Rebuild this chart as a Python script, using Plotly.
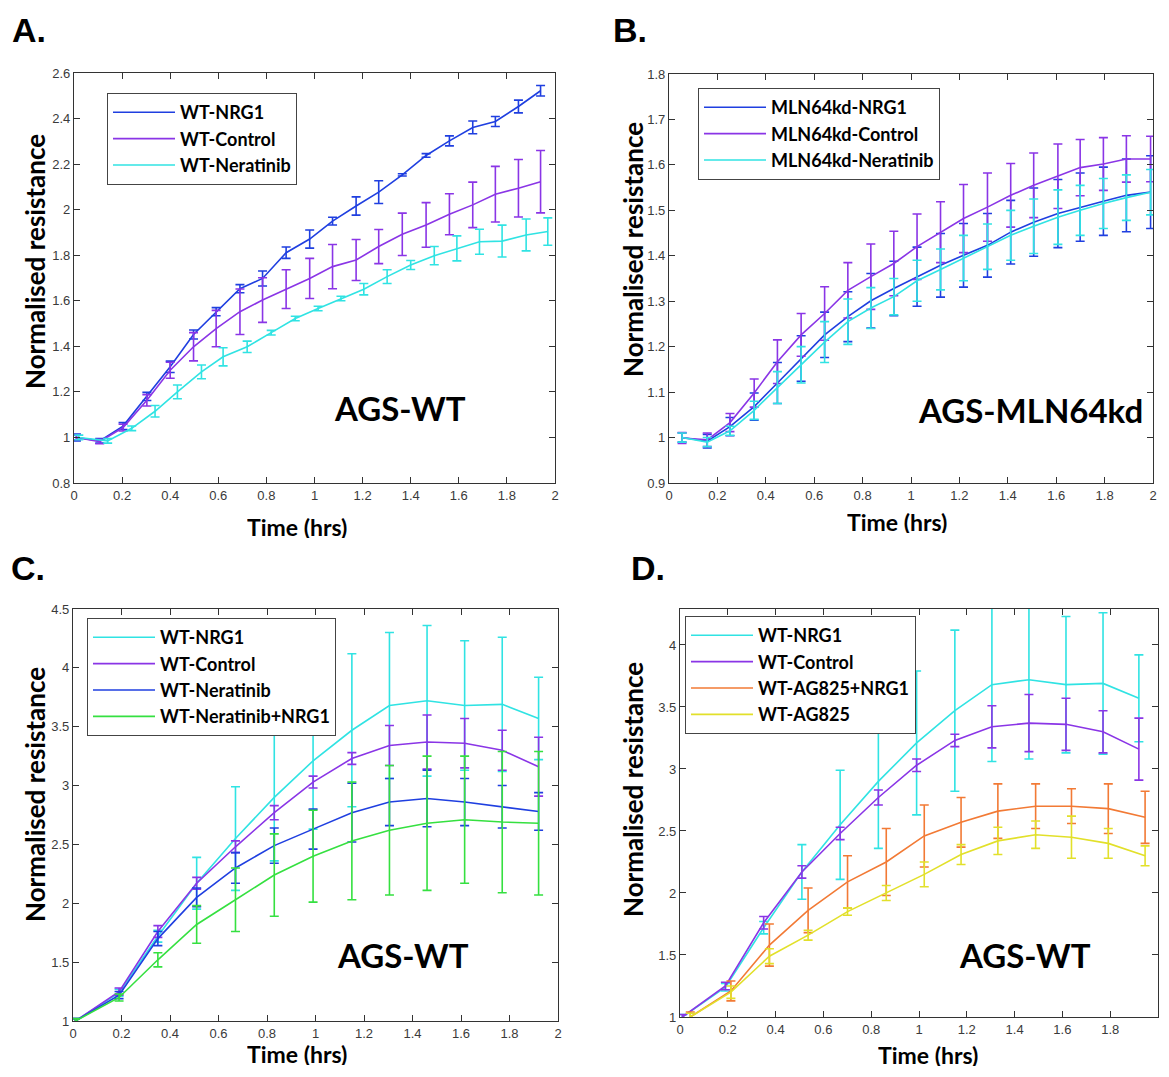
import plotly.graph_objects as go

# ---------- Panel A: AGS-WT ----------
a_x_nrg1 = [0.01, 0.107, 0.204, 0.303, 0.40, 0.497, 0.591, 0.69, 0.784, 0.882, 0.98,
            1.075, 1.173, 1.267, 1.365, 1.464, 1.561, 1.658, 1.752, 1.848, 1.94]
a_nrg1 = [1.0, 0.985, 1.05, 1.18, 1.31, 1.452, 1.552, 1.653, 1.698, 1.811, 1.871,
          1.95, 2.016, 2.077, 2.153, 2.238, 2.302, 2.361, 2.387, 2.453, 2.522]
a_nrg1_err = [0.015, 0.01, 0.015, 0.018, 0.025, 0.02, 0.018, 0.018, 0.033, 0.025, 0.04,
              0.017, 0.04, 0.05, 0.005, 0.008, 0.022, 0.028, 0.022, 0.028, 0.023]
a_ctrl = [1.0, 0.982, 1.043, 1.163, 1.295, 1.398, 1.478, 1.552, 1.603, 1.651, 1.698,
          1.75, 1.779, 1.838, 1.892, 1.933, 1.98, 2.021, 2.068, 2.094, 2.123]
a_ctrl_err = [0.01, 0.01, 0.015, 0.025, 0.035, 0.062, 0.08, 0.1, 0.098, 0.085, 0.088,
              0.097, 0.09, 0.075, 0.093, 0.098, 0.09, 0.1, 0.122, 0.126, 0.137]
a_x_ner = [0.02, 0.14, 0.24, 0.337, 0.43, 0.53, 0.62, 0.72, 0.82, 0.92, 1.015,
           1.11, 1.205, 1.302, 1.40, 1.498, 1.592, 1.686, 1.78, 1.88, 1.97]
a_ner = [1.0, 0.985, 1.04, 1.115, 1.2, 1.288, 1.354, 1.398, 1.46, 1.522, 1.566,
         1.61, 1.651, 1.706, 1.757, 1.798, 1.83, 1.859, 1.862, 1.889, 1.904]
a_ner_err = [0.01, 0.01, 0.01, 0.025, 0.03, 0.03, 0.04, 0.025, 0.01, 0.01, 0.01,
             0.01, 0.025, 0.03, 0.02, 0.04, 0.055, 0.055, 0.07, 0.07, 0.06]

# ---------- Panel B: AGS-MLN64kd ----------
b_x = [0.054, 0.158, 0.252, 0.352, 0.448, 0.546, 0.643, 0.739, 0.834, 0.929, 1.025,
       1.122, 1.217, 1.316, 1.412, 1.507, 1.607, 1.699, 1.795, 1.89, 1.99]
b_nrg1 = [1.0, 0.992, 1.024, 1.068, 1.12, 1.174, 1.226, 1.266, 1.301, 1.328, 1.354,
          1.379, 1.401, 1.423, 1.452, 1.474, 1.493, 1.507, 1.52, 1.533, 1.54]
b_nrg1_err = [0.01, 0.015, 0.02, 0.03, 0.045, 0.05, 0.05, 0.055, 0.06, 0.06, 0.065,
              0.07, 0.07, 0.07, 0.07, 0.075, 0.075, 0.075, 0.075, 0.08, 0.08]
b_ctrl = [0.999, 0.995, 1.033, 1.098, 1.167, 1.226, 1.273, 1.324, 1.354, 1.383, 1.42,
          1.452, 1.482, 1.507, 1.533, 1.555, 1.575, 1.594, 1.602, 1.613, 1.613]
b_ctrl_err = [0.012, 0.015, 0.02, 0.031, 0.048, 0.047, 0.059, 0.061, 0.072, 0.071, 0.072,
              0.067, 0.075, 0.075, 0.07, 0.071, 0.071, 0.062, 0.058, 0.051, 0.05]
b_ner = [1.0, 0.99, 1.015, 1.06, 1.11, 1.16, 1.21, 1.255, 1.285, 1.31, 1.345,
         1.37, 1.395, 1.42, 1.445, 1.465, 1.485, 1.5, 1.515, 1.528, 1.54]
b_ner_err = [0.01, 0.01, 0.01, 0.02, 0.035, 0.04, 0.045, 0.05, 0.045, 0.04, 0.045,
             0.045, 0.05, 0.05, 0.055, 0.06, 0.06, 0.055, 0.055, 0.05, 0.05]

# ---------- Panels C / D: AGS-WT (shared NRG1 and Control) ----------
cd_x = [0.01, 0.19, 0.35, 0.51, 0.67, 0.83, 0.99, 1.15, 1.305, 1.46, 1.615, 1.77, 1.92]
wt_nrg1 = [1.0, 1.24, 1.72, 2.17, 2.55, 2.9, 3.21, 3.47, 3.68, 3.72, 3.68, 3.69, 3.57]
wt_nrg1_err = [0.02, 0.03, 0.05, 0.22, 0.44, 0.54, 0.58, 0.65, 0.62, 0.64, 0.55, 0.57, 0.35]
wt_ctrl = [1.0, 1.25, 1.76, 2.17, 2.48, 2.77, 3.03, 3.23, 3.34, 3.37, 3.36, 3.3, 3.16]
wt_ctrl_err = [0.02, 0.03, 0.05, 0.05, 0.05, 0.06, 0.05, 0.05, 0.17, 0.23, 0.21, 0.17, 0.25]
c_ner = [1.0, 1.22, 1.7, 2.05, 2.3, 2.49, 2.63, 2.77, 2.86, 2.89, 2.86, 2.82, 2.78]
c_ner_err = [0.02, 0.03, 0.06, 0.08, 0.13, 0.15, 0.17, 0.25, 0.2, 0.24, 0.2, 0.18, 0.16]
c_ner_nrg1 = [1.0, 1.2, 1.52, 1.82, 2.03, 2.24, 2.4, 2.53, 2.62, 2.68, 2.71, 2.69, 2.68]
c_ner_nrg1_err = [0.02, 0.03, 0.06, 0.16, 0.27, 0.35, 0.39, 0.5, 0.55, 0.57, 0.54, 0.6, 0.61]

d_x_ag = [0.043, 0.213, 0.374, 0.536, 0.701, 0.863, 1.022, 1.176, 1.33, 1.488, 1.638, 1.792, 1.946]
d_ag_nrg1 = [1.0, 1.21, 1.58, 1.86, 2.09, 2.25, 2.46, 2.57, 2.66, 2.7, 2.7, 2.68, 2.61]
d_ag_nrg1_err = [0.04, 0.08, 0.17, 0.18, 0.21, 0.27, 0.25, 0.2, 0.22, 0.18, 0.14, 0.2, 0.21]
d_ag = [1.0, 1.2, 1.49, 1.66, 1.85, 2.0, 2.15, 2.31, 2.42, 2.47, 2.45, 2.4, 2.3]
d_ag_err = [0.03, 0.05, 0.06, 0.04, 0.03, 0.06, 0.1, 0.08, 0.11, 0.11, 0.17, 0.12, 0.08]

BLUE = "#1f3fe0"
PURPLE = "#8a35e6"
CYAN = "#30e3e3"
GREEN = "#35e040"
ORANGE = "#f27a35"
YELLOW = "#e2e02a"

fig = go.Figure()


def add_series(x, y, err, name, color, ax, legend):
    fig.add_trace(go.Scatter(
        x=x, y=y, name=name, mode="lines",
        line=dict(color=color, width=1.6),
        error_y=dict(type="data", array=err, visible=True, color=color,
                     thickness=1.6, width=4.5),
        xaxis="x" + ax, yaxis="y" + ax, legend=legend,
    ))


add_series(a_x_nrg1, a_nrg1, a_nrg1_err, "WT-NRG1", BLUE, "", "legend")
add_series(a_x_nrg1, a_ctrl, a_ctrl_err, "WT-Control", PURPLE, "", "legend")
add_series(a_x_ner, a_ner, a_ner_err, "WT-Neratinib", CYAN, "", "legend")

add_series(b_x, b_nrg1, b_nrg1_err, "MLN64kd-NRG1", BLUE, "2", "legend2")
add_series(b_x, b_ctrl, b_ctrl_err, "MLN64kd-Control", PURPLE, "2", "legend2")
add_series(b_x, b_ner, b_ner_err, "MLN64kd-Neratinib", CYAN, "2", "legend2")

add_series(cd_x, wt_nrg1, wt_nrg1_err, "WT-NRG1", CYAN, "3", "legend3")
add_series(cd_x, wt_ctrl, wt_ctrl_err, "WT-Control", PURPLE, "3", "legend3")
add_series(cd_x, c_ner, c_ner_err, "WT-Neratinib", BLUE, "3", "legend3")
add_series(cd_x, c_ner_nrg1, c_ner_nrg1_err, "WT-Neratinib+NRG1", GREEN, "3", "legend3")

add_series(cd_x, wt_nrg1, wt_nrg1_err, "WT-NRG1", CYAN, "4", "legend4")
add_series(cd_x, wt_ctrl, wt_ctrl_err, "WT-Control", PURPLE, "4", "legend4")
add_series(d_x_ag, d_ag_nrg1, d_ag_nrg1_err, "WT-AG825+NRG1", ORANGE, "4", "legend4")
add_series(d_x_ag, d_ag, d_ag_err, "WT-AG825", YELLOW, "4", "legend4")

# page body has an 8px margin, so the figure is shrunk and everything shifted by 8px
OFF = 8
W, H = 1169 - 2 * OFF, 1077 - 2 * OFF


def px_x(p):
    return (p - OFF) / W


def px_y(p):
    return 1 - (p - OFF) / H


axis_style = dict(showline=True, linecolor="#333333", linewidth=1.2, mirror="ticks",
                  ticks="inside", ticklen=6, tickcolor="#333333", showgrid=False,
                  zeroline=False, automargin=False,
                  tickfont=dict(family="Liberation Sans", size=13, color="#3a3a3a"))

panels = {
    "": dict(x=(74, 555), y=(73, 483), yr=[0.8, 2.6], dy=0.2),
    "2": dict(x=(669, 1153), y=(74, 483), yr=[0.9, 1.8], dy=0.1),
    "3": dict(x=(73, 558), y=(609, 1021), yr=[1, 4.5], dy=0.5),
    "4": dict(x=(680, 1158), y=(609, 1017), yr=[1, 4.29], dy=0.5),
}
for k, p in panels.items():
    fig.update_layout({
        "xaxis" + k: dict(domain=[px_x(p["x"][0]), px_x(p["x"][1])], range=[0, 2],
                          dtick=0.2, tick0=0, anchor="y" + k, **axis_style),
        "yaxis" + k: dict(domain=[px_y(p["y"][1]), px_y(p["y"][0])], range=p["yr"],
                          dtick=p["dy"], tick0=0, anchor="x" + k, **axis_style),
    })

legend_style = dict(bgcolor="white", bordercolor="#444444", borderwidth=1,
                    font=dict(family="Lato", size=18, color="black", weight="bold"),
                    xanchor="left", yanchor="top", itemwidth=62, tracegroupgap=0)
fig.update_layout(
    legend=dict(x=px_x(107), y=px_y(93), **legend_style),
    legend2=dict(x=px_x(698), y=px_y(88), **legend_style),
    legend3=dict(x=px_x(87), y=px_y(618), **legend_style),
    legend4=dict(x=px_x(685), y=px_y(616), **legend_style),
)


def note(txt, x, y, size, family="Lato", angle=0, height=None):
    return dict(text="<b>" + txt + "</b>", x=px_x(x), y=px_y(y), xref="paper", yref="paper",
                xanchor="center", yanchor="middle", showarrow=False, textangle=angle,
                height=height, font=dict(family=family, size=size, color="black"))


ann = []
for txt, x, y in [("A.", 29, 30), ("B.", 630, 30), ("C.", 28, 568), ("D.", 648, 568)]:
    ann.append(note(txt, x, y, 34, family="Liberation Sans"))
for x, y in [(297, 527), (897, 522), (297, 1054), (928, 1055)]:
    ann.append(note("Time (hrs)", x, y, 23, height=22))
for x, y in [(35, 262), (633, 250), (35, 795), (633, 790)]:
    ann.append(note("Normalised resistance", x, y, 26, angle=-90))
for txt, x, y in [("AGS-WT", 400, 408), ("AGS-MLN64kd", 1030, 410),
                  ("AGS-WT", 403, 955), ("AGS-WT", 1025, 955)]:
    ann.append(note(txt, x, y, 33))

fig.update_layout(
    width=W, height=H, margin=dict(l=0, r=0, t=0, b=0, autoexpand=False),
    paper_bgcolor="white", plot_bgcolor="white",
    annotations=ann, showlegend=True,
)

fig.write_html("out.html")
